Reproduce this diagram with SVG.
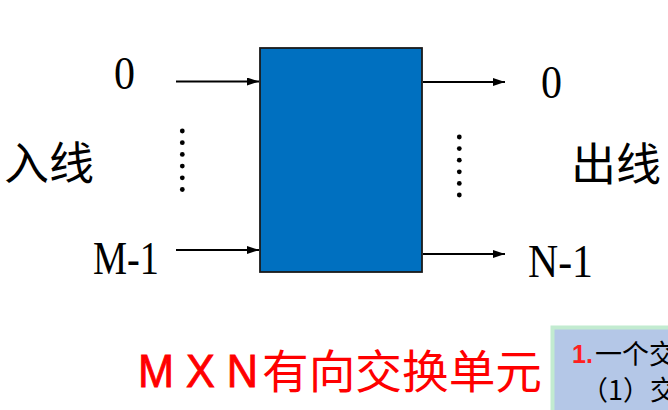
<svg xmlns="http://www.w3.org/2000/svg" width="668" height="410" viewBox="0 0 668 410">
<style>
.lbl{font-family:"Liberation Serif","Noto Sans CJK SC",serif;font-size:46px;fill:#000}
.cjk{font-family:"Noto Sans CJK SC",sans-serif;font-size:45px;fill:#000}
.wire{stroke:#000;stroke-width:2;fill:none}
.dot{fill:#000}
</style>
<defs>
<marker id="ah" markerWidth="12" markerHeight="8" refX="12" refY="4" orient="auto" markerUnits="userSpaceOnUse">
<path d="M0,0 L12,4 L0,8 Z" fill="#000"/>
</marker>
</defs>
<rect width="668" height="410" fill="#fff"/>
<g id="switch">
<rect x="260" y="48" width="162" height="224" fill="#0070c0" stroke="#1a1a1a" stroke-width="1.8"/>
</g>
<g id="connectors">
<line class="wire" x1="176" y1="81.5" x2="259" y2="81.5" marker-end="url(#ah)"/>
<line class="wire" x1="176" y1="250" x2="259" y2="250" marker-end="url(#ah)"/>
<line class="wire" x1="423" y1="82" x2="505" y2="82" marker-end="url(#ah)"/>
<line class="wire" x1="423" y1="254" x2="505" y2="254" marker-end="url(#ah)"/>
</g>
<g id="dots-in">
<circle class="dot" cx="182.3" cy="131" r="2.4"/>
<circle class="dot" cx="182.3" cy="142.7" r="2.4"/>
<circle class="dot" cx="182.3" cy="154.4" r="2.4"/>
<circle class="dot" cx="182.3" cy="166.1" r="2.4"/>
<circle class="dot" cx="182.3" cy="177.8" r="2.4"/>
<circle class="dot" cx="182.3" cy="189.5" r="2.4"/>
</g>
<g id="dots-out">
<circle class="dot" cx="459.3" cy="137" r="2.4"/>
<circle class="dot" cx="459.3" cy="148.6" r="2.4"/>
<circle class="dot" cx="459.3" cy="160.2" r="2.4"/>
<circle class="dot" cx="459.3" cy="171.8" r="2.4"/>
<circle class="dot" cx="459.3" cy="183.4" r="2.4"/>
<circle class="dot" cx="459.3" cy="195" r="2.4"/>
</g>
<g id="labels-in">
<text class="lbl" x="114" y="89" textLength="21" lengthAdjust="spacingAndGlyphs">0</text>
<text class="lbl" x="93" y="274" textLength="66" lengthAdjust="spacingAndGlyphs">M-1</text>
<text class="cjk" x="4" y="180">入线</text>
</g>
<g id="labels-out">
<text class="lbl" x="541" y="98" textLength="21" lengthAdjust="spacingAndGlyphs">0</text>
<text class="lbl" x="528" y="277" textLength="65" lengthAdjust="spacingAndGlyphs">N-1</text>
<text class="cjk" x="571" y="181">出线</text>
</g>
<g id="title">
<text x="138" y="387" font-family="Liberation Sans, sans-serif" font-size="46" fill="#ff0000" stroke="#ff0000" stroke-width="0.9" textLength="120" lengthAdjust="spacingAndGlyphs">M X N</text>
<text x="262" y="388" font-family="Noto Sans CJK SC, sans-serif" font-size="46" fill="#ff0000" textLength="280" lengthAdjust="spacingAndGlyphs">有向交换单元</text>
</g>
<g id="note">
<rect x="552.5" y="327.5" width="130" height="100" fill="#b4c7e7" stroke="#c2ebd0" stroke-width="4"/>
<text x="572" y="363" font-family="Liberation Sans, sans-serif" font-size="25" font-weight="bold" fill="#ff2020">1.</text>
<text x="595" y="364" font-family="Noto Sans CJK SC, sans-serif" font-size="27" fill="#000">一个交</text>
<text x="581" y="400" font-family="Noto Sans CJK SC, sans-serif" font-size="27" fill="#000">（1）交</text>
</g>
</svg>
